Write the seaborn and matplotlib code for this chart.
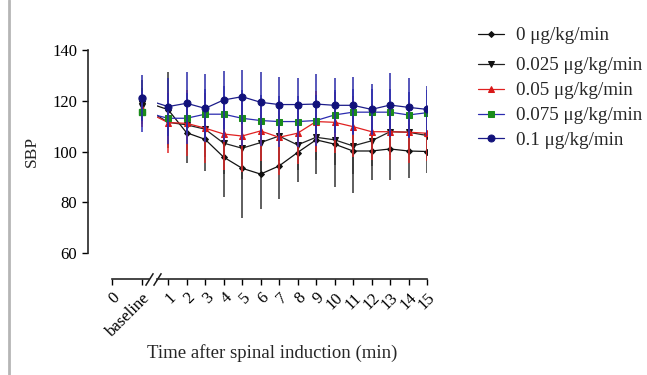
import matplotlib
matplotlib.use("Agg")
import matplotlib.pyplot as plt
import matplotlib.transforms as mtransforms
import seaborn as sns

# time points after spinal induction (min)
times = list(range(1, 16))
doses = ['0 μg/kg/min', '0.025 μg/kg/min', '0.05 μg/kg/min',
         '0.075 μg/kg/min', '0.1 μg/kg/min']

# baseline mean / SD per dose
base_mean = [120.0, 118.0, 116.6, 115.7, 121.0]
base_sd = [8.0, 7.0, 7.0, 8.0, 9.0]

# mean SBP per dose over time
sbp_0 = [116.5, 107.4, 104.8, 97.8, 93.4, 91.1, 94.3, 99.6, 104.6, 102.9,
         100.2, 100.2, 101.0, 100.2, 100.0]
sbp_0025 = [111.5, 110.5, 108.8, 103.3, 101.3, 103.5, 106.1, 102.6, 105.6, 104.6,
            102.2, 104.2, 107.8, 107.6, 106.3]
sbp_005 = [111.4, 111.1, 109.2, 106.9, 106.1, 108.1, 105.6, 107.2, 111.8, 111.5,
           109.8, 107.8, 107.8, 107.6, 107.2]
sbp_0075 = [113.1, 113.1, 114.7, 114.7, 113.1, 112.2, 111.8, 111.8, 112.2, 114.4,
            115.5, 115.5, 115.5, 114.4, 115.3]
sbp_01 = [117.7, 119.0, 117.0, 120.3, 121.6, 119.4, 118.5, 118.5, 118.7, 118.2,
          118.2, 116.6, 118.3, 117.4, 116.6]

# SD per dose over time
sd_0 = [15.0, 12.0, 12.4, 15.6, 19.7, 13.8, 13.1, 11.6, 13.5, 16.7,
        16.6, 11.4, 12.2, 10.7, 8.6]
sd_0025 = [9.0, 10.0, 11.0, 12.0, 12.0, 11.0, 10.0, 10.0, 9.0, 10.0,
           11.0, 10.0, 9.0, 9.0, 9.0]
sd_005 = [12.0, 13.0, 13.7, 14.0, 14.0, 12.0, 14.8, 12.0, 12.0, 12.0,
          12.0, 11.0, 11.0, 12.0, 11.0]
sd_0075 = [10.0, 10.0, 10.0, 11.0, 11.0, 10.0, 10.0, 10.0, 10.0, 10.0,
           9.0, 9.0, 9.0, 9.0, 9.0]
sd_01 = [11.4, 12.2, 13.4, 11.4, 10.6, 11.8, 11.0, 10.6, 11.7, 10.9,
         11.2, 9.9, 12.5, 11.7, 9.4]

means = [sbp_0, sbp_0025, sbp_005, sbp_0075, sbp_01]
sds = [sd_0, sd_0025, sd_005, sd_0075, sd_01]

# styles
line_colors = ['#111111', '#222222', '#e02020', '#2b2bb0', '#1c1c8a']
marker_colors = ['#111111', '#111111', '#d81818', '#1a8c1a', '#12127a']
bar_colors = ['#333333', '#333333', '#e02828', '#2f2fb8', '#2a2aa8']
markers = ['D', 'v', '^', 's', 'o']
msizes = [3.0, 4.5, 4.5, 4.5, 5.0]

# positions on the broken x axis
ZERO_X = -2.03
BASE_X = -0.42

sns.set_theme(style='ticks')
plt.rcParams['font.family'] = ['Liberation Serif', 'DejaVu Serif']

W, H = 647, 375
fig = plt.figure(figsize=(W / 100, H / 100), dpi=100)
ax0 = fig.add_axes([112 / W, (H - 253) / H, 37 / W, 203 / H])
ax1 = fig.add_axes([157 / W, (H - 253) / H, 270 / W, 203 / H])

for i in range(len(doses)):
    xs = [BASE_X] + times
    ys = [base_mean[i]] + means[i]
    es = [base_sd[i]] + sds[i]
    for ax in (ax0, ax1):
        ax.errorbar(xs, ys, yerr=es, fmt='none', ecolor=bar_colors[i],
                    elinewidth=1.1, capsize=0, zorder=2 + 2 * i)
    sns.lineplot(x=xs, y=ys, ax=ax1, color=line_colors[i], marker=markers[i],
                 markersize=msizes[i], markerfacecolor=marker_colors[i],
                 markeredgecolor=marker_colors[i], linewidth=0.9,
                 label=doses[i], zorder=3 + 2 * i)
    ax0.plot([BASE_X], [base_mean[i]], linestyle='none', marker=markers[i],
             markersize=msizes[i], color=marker_colors[i], zorder=3 + 2 * i)

for ax in (ax0, ax1):
    ax.set_ylim(60, 140)
    ax.spines['top'].set_visible(False)
    ax.spines['right'].set_visible(False)
    ax.spines['bottom'].set_position(('outward', 18.7))
    ax.spines['bottom'].set_linewidth(1.2)
    ax.spines['left'].set_linewidth(1.2)
    ax.tick_params(length=4.3, width=1.0, labelsize=12, colors='black')
    ax.set_xlabel('')
    ax.set_ylabel('')

ax0.set_xlim(ZERO_X, -0.03)
ax0.spines['left'].set_position(('outward', 17.3))
ax0.set_yticks([60, 80, 100, 120, 140])
ax0.set_xticks([ZERO_X, BASE_X])
ax0.set_xticklabels(['0', 'baseline'], rotation=45, ha='right',
                    rotation_mode='anchor')

ax1.set_xlim(0.4, 15)
ax1.spines['left'].set_visible(False)
ax1.tick_params(axis='y', left=False, labelleft=False)
ax1.set_xticks(times)
ax1.set_xticklabels([str(t) for t in times], rotation=45, ha='right',
                    rotation_mode='anchor')

# break marks on the x axis
shift = mtransforms.ScaledTranslation(0, -0.26, fig.dpi_scale_trans)
brk = dict(marker=[(-1, -1.6), (1, 1.6)], markersize=9, linestyle='none',
           color='k', mec='k', mew=1.1, clip_on=False)
ax0.plot([1], [0], transform=ax0.transAxes + shift, **brk)
ax1.plot([0], [0], transform=ax1.transAxes + shift, **brk)

handles, labels = ax1.get_legend_handles_labels()
ax1.get_legend().remove()
leg_kw = dict(loc='upper left', frameon=False, fontsize=13.7, handlelength=1.35,
              handletextpad=0.65, labelspacing=0.4, borderpad=0, borderaxespad=0)
fig.legend(handles[:1], labels[:1], bbox_to_anchor=(478 / W, 1 - 27 / H), **leg_kw)
fig.legend(handles[1:], labels[1:], bbox_to_anchor=(478 / W, 1 - 57 / H), **leg_kw)

fig.text(32 / W, 1 - 151 / H, 'SBP', rotation=90, ha='center', va='center',
         fontsize=12.5)
fig.text(272 / W, 1 - 353 / H, 'Time after spinal induction (min)',
         ha='center', va='center', fontsize=13.5)

# grey frame line on the left edge of the panel
fig.add_artist(plt.Line2D([9 / W, 9 / W], [0, 1], color='#b5b5b5', lw=2,
                          transform=fig.transFigure))

fig.savefig('out.png', dpi=100)
